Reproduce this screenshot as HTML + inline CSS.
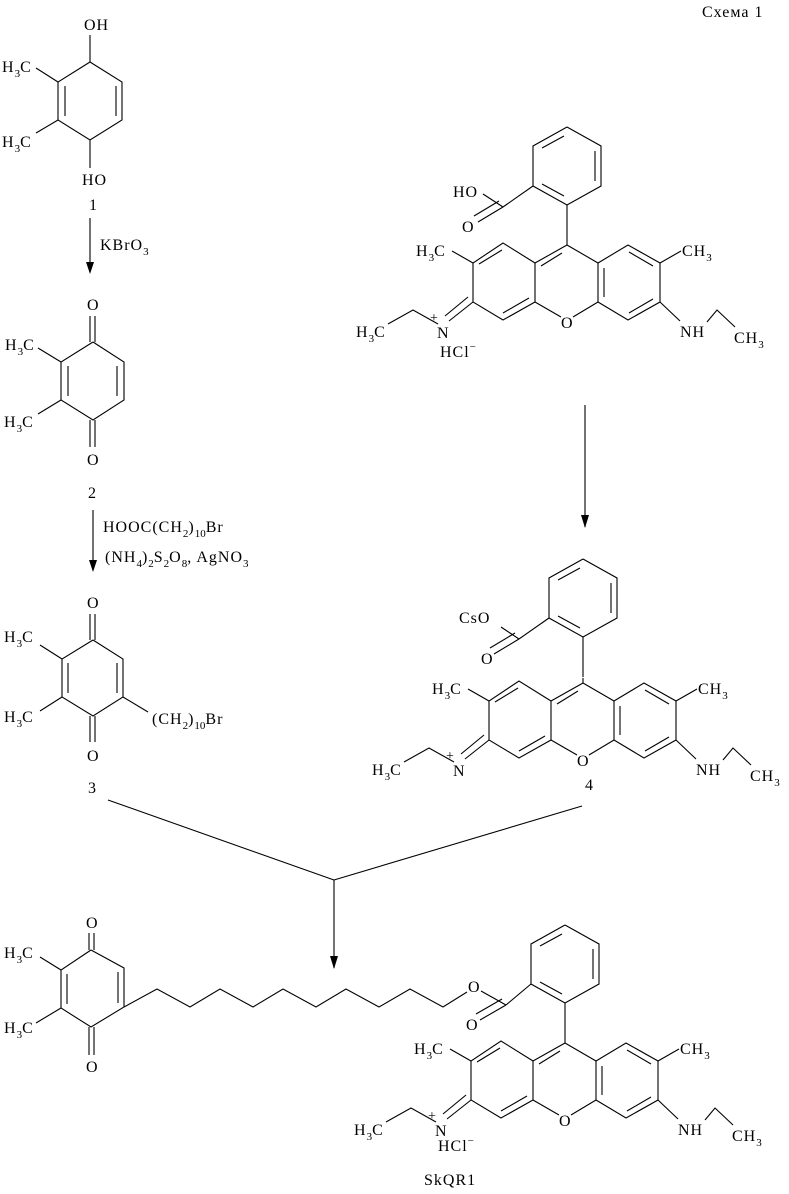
<!DOCTYPE html>
<html><head><meta charset="utf-8"><style>
html,body{margin:0;padding:0;background:#fff;}
svg{display:block;}
text{font-family:"Liberation Serif","DejaVu Serif",serif;font-size:16px;letter-spacing:1px;fill:#000;}
.s{font-size:11px;letter-spacing:0;}
line,polyline{stroke:#000;stroke-width:1.1;fill:none;}
</style></head><body>
<svg width="789" height="1194" viewBox="0 0 789 1194" xmlns="http://www.w3.org/2000/svg">
<text x="702" y="17">Схема 1</text>

<!-- Compound 1 -->
<text x="84" y="30">OH</text>
<line x1="90" y1="35" x2="90" y2="62"/>
<polyline points="90,62 122,82 122,120 90,140 58,120 58,82 90,62"/>
<line x1="116" y1="86" x2="116" y2="116"/>
<line x1="65" y1="86" x2="65" y2="116"/>
<line x1="58" y1="82" x2="36" y2="68"/>
<line x1="58" y1="120" x2="36" y2="133"/>
<text x="2" y="72">H<tspan class="s" dy="5">3</tspan><tspan dy="-5">C</tspan></text>
<text x="2" y="147">H<tspan class="s" dy="5">3</tspan><tspan dy="-5">C</tspan></text>
<line x1="90" y1="140" x2="90" y2="168"/>
<text x="82" y="185">HO</text>
<text x="89" y="210">1</text>
<line x1="90" y1="218" x2="90" y2="272"/>
<polygon points="86,262 94,262 90,274" fill="#000"/>
<text x="100" y="250">KBrO<tspan class="s" dy="5">3</tspan></text>

<!-- Compound 2 -->
<text x="87" y="310">O</text>
<line x1="90" y1="316" x2="90" y2="342"/><line x1="95" y1="316" x2="95" y2="342"/>
<polyline points="93,342 124,362 124,400 93,420 61,400 61,362 93,342"/>
<line x1="117" y1="366" x2="117" y2="396"/>
<line x1="68" y1="366" x2="68" y2="396"/>
<line x1="61" y1="362" x2="38" y2="348"/>
<line x1="61" y1="400" x2="38" y2="414"/>
<text x="5" y="350">H<tspan class="s" dy="5">3</tspan><tspan dy="-5">C</tspan></text>
<text x="4" y="427">H<tspan class="s" dy="5">3</tspan><tspan dy="-5">C</tspan></text>
<line x1="90" y1="420" x2="90" y2="447"/><line x1="95" y1="420" x2="95" y2="447"/>
<text x="87" y="465">O</text>
<text x="88" y="498">2</text>
<line x1="93" y1="510" x2="93" y2="570"/>
<polygon points="89,560 97,560 93,572" fill="#000"/>
<text x="103" y="532">HOOC(CH<tspan class="s" dy="5">2</tspan><tspan dy="-5">)</tspan><tspan class="s" dy="5">10</tspan><tspan dy="-5">Br</tspan></text>
<text x="105" y="562">(NH<tspan class="s" dy="5">4</tspan><tspan dy="-5">)</tspan><tspan class="s" dy="5">2</tspan><tspan dy="-5">S</tspan><tspan class="s" dy="5">2</tspan><tspan dy="-5">O</tspan><tspan class="s" dy="5">8</tspan><tspan dy="-5">, AgNO</tspan><tspan class="s" dy="5">3</tspan></text>

<!-- Compound 3 -->
<text x="87" y="608">O</text>
<line x1="90" y1="614" x2="90" y2="640"/><line x1="95" y1="614" x2="95" y2="640"/>
<polyline points="93,640 123,659 123,697 93,716 62,697 62,659 93,640"/>
<line x1="117" y1="663" x2="117" y2="693"/>
<line x1="68" y1="663" x2="68" y2="693"/>
<line x1="62" y1="659" x2="40" y2="645"/>
<line x1="62" y1="697" x2="40" y2="711"/>
<line x1="123" y1="697" x2="148" y2="712"/>
<text x="4" y="642">H<tspan class="s" dy="5">3</tspan><tspan dy="-5">C</tspan></text>
<text x="4" y="722">H<tspan class="s" dy="5">3</tspan><tspan dy="-5">C</tspan></text>
<text x="152" y="724">(CH<tspan class="s" dy="5">2</tspan><tspan dy="-5">)</tspan><tspan class="s" dy="5">10</tspan><tspan dy="-5">Br</tspan></text>
<line x1="90" y1="716" x2="90" y2="742"/><line x1="95" y1="716" x2="95" y2="742"/>
<text x="87" y="761">O</text>
<text x="88" y="793">3</text>
<text x="585" y="790">4</text>

<!-- arrows -->
<line x1="585" y1="405" x2="585" y2="527"/>
<polygon points="581,515 589,515 585,528" fill="#000"/>
<line x1="108" y1="800" x2="334" y2="880"/>
<line x1="582" y1="806" x2="334" y2="880"/>
<line x1="334" y1="880" x2="334" y2="968"/>
<polygon points="330,956 338,956 334,969" fill="#000"/>

<!-- Rhodamine top -->
<g>
<polyline points="567,127 601,146 601,186 567,205 533,186 533,146 567,127"/>
<line x1="542" y1="148" x2="564" y2="136"/><line x1="595" y1="151" x2="595" y2="181"/><line x1="564" y1="196" x2="542" y2="184"/>
<line x1="567" y1="205" x2="567" y2="245"/>
<line x1="567" y1="245" x2="535" y2="263"/><line x1="567" y1="245" x2="598" y2="263"/>
<line x1="535" y1="263" x2="535" y2="302"/><line x1="598" y1="263" x2="598" y2="302"/>
<line x1="535" y1="302" x2="561" y2="317"/><line x1="598" y1="302" x2="573" y2="317"/>
<polyline points="535,263 503,243 473,263 473,302 503,320 535,302"/>
<polyline points="598,263 628,245 660,263 660,302 628,320 598,302"/>
<line x1="562" y1="253" x2="541" y2="266"/><line x1="502" y1="250" x2="479" y2="264"/><line x1="503" y1="313" x2="529" y2="298"/>
<line x1="604" y1="268" x2="604" y2="297"/><line x1="629" y1="252" x2="653" y2="266"/><line x1="629" y1="313" x2="653" y2="299"/>
<text x="561" y="328">O</text>
<line x1="533" y1="186" x2="503" y2="207"/>
<line x1="503" y1="207" x2="483" y2="194"/>
<line x1="503" y1="207" x2="478" y2="222"/><line x1="499" y1="201" x2="474" y2="216"/>
<text x="453" y="197">HO</text>
<text x="462" y="232">O</text>
<line x1="473" y1="263" x2="452" y2="251"/>
<text x="416" y="256">H<tspan class="s" dy="5">3</tspan><tspan dy="-5">C</tspan></text>
<line x1="660" y1="263" x2="681" y2="251"/>
<text x="682" y="256">CH<tspan class="s" dy="5">3</tspan></text>
<line x1="473" y1="302" x2="449" y2="321"/><line x1="468" y1="297" x2="445" y2="316"/>
<text x="437" y="338">N</text><text x="430" y="322" style="font-size:14px">+</text>
<polyline points="438,324 413,310 388,324"/>
<text x="356" y="337">H<tspan class="s" dy="5">3</tspan><tspan dy="-5">C</tspan></text>
<text x="440" y="357">HCl<tspan class="s" dy="-7">−</tspan></text>
<line x1="660" y1="302" x2="680" y2="321"/>
<text x="680" y="337">NH</text>
<polyline points="707,322 717,310 735,327"/>
<text x="734" y="343">CH<tspan class="s" dy="5">3</tspan></text>
</g>

<!-- Rhodamine middle (4) -->
<g transform="translate(16,432)">
<polyline points="567,127 601,146 601,186 567,205 533,186 533,146 567,127"/>
<line x1="542" y1="148" x2="564" y2="136"/><line x1="595" y1="151" x2="595" y2="181"/><line x1="564" y1="196" x2="542" y2="184"/>
<line x1="567" y1="205" x2="567" y2="245"/>
</g>
<g transform="translate(16,438)">
<line x1="567" y1="240" x2="567" y2="245"/>
<line x1="567" y1="245" x2="535" y2="263"/><line x1="567" y1="245" x2="598" y2="263"/>
<line x1="535" y1="263" x2="535" y2="302"/><line x1="598" y1="263" x2="598" y2="302"/>
<line x1="535" y1="302" x2="561" y2="317"/><line x1="598" y1="302" x2="573" y2="317"/>
<polyline points="535,263 503,243 473,263 473,302 503,320 535,302"/>
<polyline points="598,263 628,245 660,263 660,302 628,320 598,302"/>
<line x1="562" y1="253" x2="541" y2="266"/><line x1="502" y1="250" x2="479" y2="264"/><line x1="503" y1="313" x2="529" y2="298"/>
<line x1="604" y1="268" x2="604" y2="297"/><line x1="629" y1="252" x2="653" y2="266"/><line x1="629" y1="313" x2="653" y2="299"/>
<text x="561" y="328">O</text>
<line x1="473" y1="263" x2="452" y2="251"/>
<text x="416" y="256">H<tspan class="s" dy="5">3</tspan><tspan dy="-5">C</tspan></text>
<line x1="660" y1="263" x2="681" y2="251"/>
<text x="682" y="256">CH<tspan class="s" dy="5">3</tspan></text>
<line x1="473" y1="302" x2="449" y2="321"/><line x1="468" y1="297" x2="445" y2="316"/>
<text x="437" y="338">N</text><text x="430" y="322" style="font-size:14px">+</text>
<polyline points="438,324 413,310 388,324"/>
<text x="356" y="337">H<tspan class="s" dy="5">3</tspan><tspan dy="-5">C</tspan></text>
<line x1="660" y1="302" x2="680" y2="321"/>
<text x="680" y="337">NH</text>
<polyline points="707,322 717,310 735,327"/>
<text x="734" y="343">CH<tspan class="s" dy="5">3</tspan></text>
</g>
<g transform="translate(16,432)">
<line x1="533" y1="186" x2="503" y2="207"/>
<line x1="503" y1="207" x2="485" y2="195"/>
<line x1="503" y1="207" x2="478" y2="222"/><line x1="499" y1="201" x2="474" y2="216"/>
<text x="443" y="191">CsO</text>
<text x="465" y="232">O</text>
</g>

<!-- Bottom quinone -->
<text x="86" y="928">O</text>
<line x1="89" y1="933" x2="89" y2="950"/><line x1="94" y1="933" x2="94" y2="950"/>
<polyline points="91,950 124,968 124,1007 91,1027 61,1008 61,970 91,950"/>
<line x1="118" y1="972" x2="118" y2="1003"/>
<line x1="67" y1="974" x2="67" y2="1004"/>
<line x1="61" y1="970" x2="40" y2="957"/>
<line x1="61" y1="1008" x2="36" y2="1023"/>
<text x="4" y="958">H<tspan class="s" dy="5">3</tspan><tspan dy="-5">C</tspan></text>
<text x="4" y="1033">H<tspan class="s" dy="5">3</tspan><tspan dy="-5">C</tspan></text>
<line x1="89" y1="1027" x2="89" y2="1055"/><line x1="94" y1="1027" x2="94" y2="1055"/>
<text x="86" y="1072">O</text>
<polyline points="124,1007 157,989 190,1007 220,989 253,1007 283,989 316,1007 346,989 379,1007 410,989 443,1007 467,992"/>
<text x="468" y="992">O</text>

<!-- Rhodamine bottom -->
<g transform="translate(-2,798)">
<polyline points="567,127 601,146 601,186 567,205 533,186 533,146 567,127"/>
<line x1="542" y1="148" x2="564" y2="136"/><line x1="595" y1="151" x2="595" y2="181"/><line x1="564" y1="196" x2="542" y2="184"/>
<line x1="567" y1="205" x2="567" y2="245"/>
<line x1="567" y1="245" x2="535" y2="263"/><line x1="567" y1="245" x2="598" y2="263"/>
<line x1="535" y1="263" x2="535" y2="302"/><line x1="598" y1="263" x2="598" y2="302"/>
<line x1="535" y1="302" x2="561" y2="317"/><line x1="598" y1="302" x2="573" y2="317"/>
<polyline points="535,263 503,243 473,263 473,302 503,320 535,302"/>
<polyline points="598,263 628,245 660,263 660,302 628,320 598,302"/>
<line x1="562" y1="253" x2="541" y2="266"/><line x1="502" y1="250" x2="479" y2="264"/><line x1="503" y1="313" x2="529" y2="298"/>
<line x1="604" y1="268" x2="604" y2="297"/><line x1="629" y1="252" x2="653" y2="266"/><line x1="629" y1="313" x2="653" y2="299"/>
<text x="561" y="328">O</text>
<line x1="533" y1="186" x2="508" y2="207"/>
<line x1="508" y1="207" x2="483" y2="193"/>
<line x1="508" y1="207" x2="482" y2="222"/><line x1="504" y1="201" x2="478" y2="216"/>
<text x="468" y="232">O</text>
<line x1="473" y1="263" x2="452" y2="251"/>
<text x="416" y="256">H<tspan class="s" dy="5">3</tspan><tspan dy="-5">C</tspan></text>
<line x1="660" y1="263" x2="681" y2="251"/>
<text x="682" y="256">CH<tspan class="s" dy="5">3</tspan></text>
<line x1="473" y1="302" x2="449" y2="321"/><line x1="468" y1="297" x2="445" y2="316"/>
<text x="437" y="338">N</text><text x="430" y="322" style="font-size:14px">+</text>
<polyline points="438,324 413,310 388,324"/>
<text x="356" y="337">H<tspan class="s" dy="5">3</tspan><tspan dy="-5">C</tspan></text>
<text x="440" y="353">HCl<tspan class="s" dy="-7">−</tspan></text>
<line x1="660" y1="302" x2="680" y2="321"/>
<text x="680" y="337">NH</text>
<polyline points="707,322 717,310 735,327"/>
<text x="734" y="343">CH<tspan class="s" dy="5">3</tspan></text>
</g>
<text x="424" y="1185">SkQR1</text>
</svg>
</body></html>
